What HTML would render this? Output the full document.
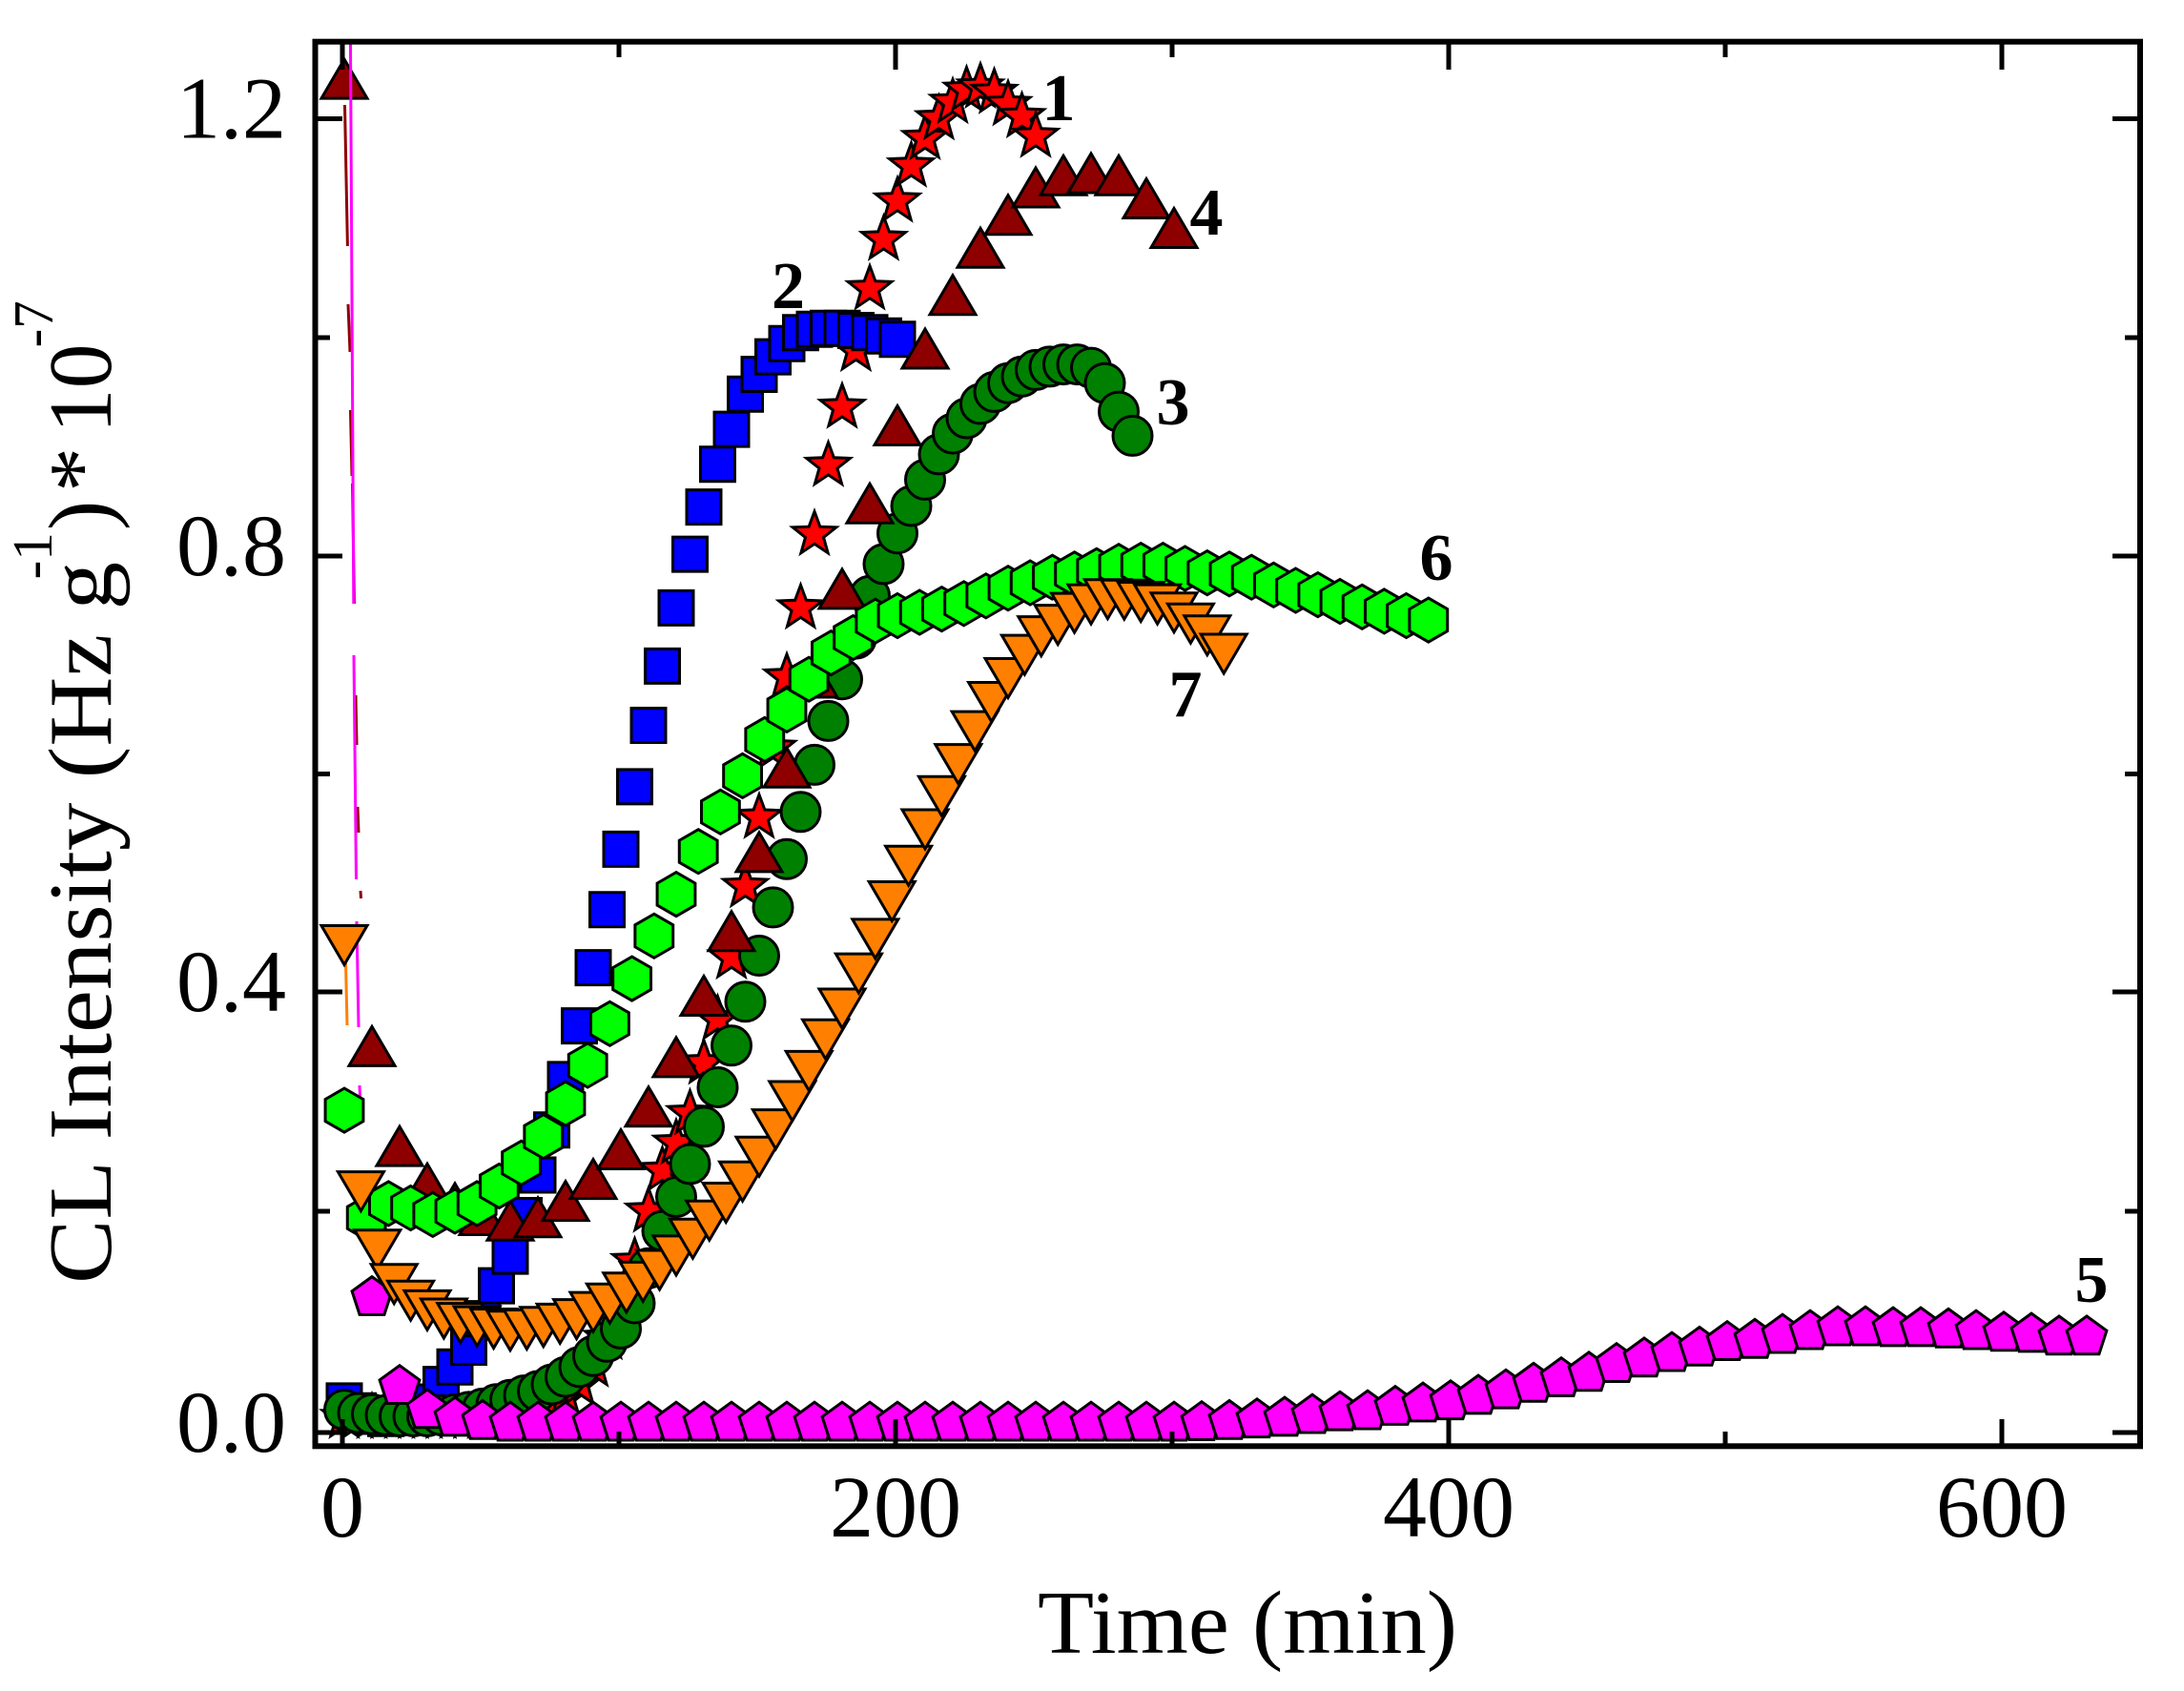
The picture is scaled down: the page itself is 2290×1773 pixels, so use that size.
<!DOCTYPE html>
<html><head><meta charset="utf-8">
<style>html,body{margin:0;padding:0;background:#fff;}svg{display:block;}</style>
</head><body>
<svg xmlns="http://www.w3.org/2000/svg" xmlns:xlink="http://www.w3.org/1999/xlink" width="2290" height="1773" viewBox="0 0 2290 1773">
<defs>
<path id="s" d="M0,-21.7L5.88,-5.79L22.83,-5.12L9.51,5.39L14.11,21.72L0,12.3L-14.11,21.72L-9.51,5.39L-22.83,-5.12L-5.88,-5.79Z"/>
<path id="q" d="M-18,-18H18V18H-18Z"/>
<circle id="c" cx="0" cy="0" r="20.5"/>
<path id="u" d="M0,-21L24,20H-24Z"/>
<path id="d" d="M0,21L24,-20H-24Z"/>
<path id="p" d="M0,-19.9L20.92,-4.7L12.93,19.9L-12.93,19.9L-20.92,-4.7Z"/>
<path id="h" d="M0,-23L19.92,-11.5L19.92,11.5L0,23L-19.92,11.5L-19.92,-11.5Z"/>
</defs>
<rect width="2290" height="1773" fill="#fff"/>

<!-- Series 1: red stars -->
<g fill="#ff0000" stroke="#000" stroke-width="3">
<use href="#s" x="361" y="1483.8"/><use href="#s" x="375.5" y="1483.8"/><use href="#s" x="390" y="1483.8"/><use href="#s" x="404.5" y="1483.8"/><use href="#s" x="419" y="1483.8"/><use href="#s" x="433.5" y="1483.8"/><use href="#s" x="448" y="1483.8"/><use href="#s" x="462.5" y="1483.8"/><use href="#s" x="477" y="1483.8"/><use href="#s" x="491.5" y="1483.8"/><use href="#s" x="506" y="1483.8"/><use href="#s" x="520.5" y="1483.8"/><use href="#s" x="535" y="1483.8"/>
<use href="#s" x="549.5" y="1481.5"/><use href="#s" x="564" y="1479.2"/><use href="#s" x="578.5" y="1472.3"/><use href="#s" x="593" y="1463.1"/><use href="#s" x="607.5" y="1449.3"/><use href="#s" x="622" y="1429.8"/><use href="#s" x="636.5" y="1401"/><use href="#s" x="651" y="1366.5"/><use href="#s" x="665.5" y="1320.5"/><use href="#s" x="680" y="1267.6"/><use href="#s" x="694.5" y="1225.1"/><use href="#s" x="709" y="1196.3"/><use href="#s" x="723.5" y="1165.3"/><use href="#s" x="738" y="1112.4"/><use href="#s" x="752.5" y="1066.4"/><use href="#s" x="767" y="1002"/><use href="#s" x="781.5" y="927.2"/><use href="#s" x="796" y="854.8"/><use href="#s" x="810.5" y="782.3"/><use href="#s" x="825" y="707.6"/><use href="#s" x="839.5" y="635.1"/><use href="#s" x="854" y="558"/><use href="#s" x="868.5" y="485.6"/><use href="#s" x="883" y="424.7"/><use href="#s" x="897.5" y="364.9"/><use href="#s" x="912" y="300.5"/><use href="#s" x="926.5" y="248.7"/><use href="#s" x="941" y="208.5"/><use href="#s" x="955.5" y="171.7"/><use href="#s" x="970" y="142.9"/><use href="#s" x="984.5" y="122.2"/><use href="#s" x="999" y="105"/><use href="#s" x="1013.5" y="92.3"/><use href="#s" x="1028" y="88.9"/><use href="#s" x="1042.5" y="94.6"/><use href="#s" x="1057" y="107.3"/><use href="#s" x="1071.5" y="119.9"/><use href="#s" x="1086" y="140.6"/>
</g>

<!-- Series 2: blue squares -->
<g fill="#0000ff" stroke="#000" stroke-width="3">
<use href="#q" x="361" y="1468.9"/><use href="#q" x="375.5" y="1479.2"/><use href="#q" x="390" y="1485"/><use href="#q" x="404.5" y="1487.3"/><use href="#q" x="419" y="1486.1"/><use href="#q" x="433.5" y="1481.5"/><use href="#q" x="448" y="1470"/><use href="#q" x="462.5" y="1451.6"/><use href="#q" x="477" y="1433.2"/><use href="#q" x="491.5" y="1412.5"/><use href="#q" x="506" y="1382.6"/><use href="#q" x="520.5" y="1348.1"/><use href="#q" x="535" y="1317.1"/><use href="#q" x="549.5" y="1274.5"/><use href="#q" x="564" y="1232"/><use href="#q" x="578.5" y="1184.8"/><use href="#q" x="593" y="1131.9"/><use href="#q" x="607.5" y="1075.6"/><use href="#q" x="622" y="1014.6"/><use href="#q" x="636.5" y="953.7"/><use href="#q" x="651" y="890.4"/><use href="#q" x="665.5" y="824.9"/><use href="#q" x="680" y="760.5"/><use href="#q" x="694.5" y="698.4"/><use href="#q" x="709" y="637.4"/><use href="#q" x="723.5" y="581.1"/><use href="#q" x="738" y="531.6"/><use href="#q" x="752.5" y="486.8"/><use href="#q" x="767" y="450.1"/><use href="#q" x="781.5" y="413.2"/><use href="#q" x="796" y="392.5"/><use href="#q" x="810.5" y="374.1"/><use href="#q" x="825" y="360.3"/><use href="#q" x="839.5" y="348.8"/><use href="#q" x="854" y="345.3"/><use href="#q" x="868.5" y="344.2"/><use href="#q" x="883" y="344.2"/><use href="#q" x="897.5" y="346.5"/><use href="#q" x="912" y="348.8"/><use href="#q" x="926.5" y="352.2"/><use href="#q" x="941" y="355.7"/>
</g>

<!-- Series 3: dark green circles -->
<g fill="#008000" stroke="#000" stroke-width="3">
<use href="#c" x="361" y="1478.1"/><use href="#c" x="375.5" y="1481.5"/><use href="#c" x="390" y="1482.7"/><use href="#c" x="404.5" y="1483.8"/><use href="#c" x="419" y="1485"/><use href="#c" x="433.5" y="1485"/><use href="#c" x="448" y="1485"/><use href="#c" x="462.5" y="1483.8"/><use href="#c" x="477" y="1482.7"/><use href="#c" x="491.5" y="1480.4"/><use href="#c" x="506" y="1476.9"/><use href="#c" x="520.5" y="1472.3"/><use href="#c" x="535" y="1467.7"/><use href="#c" x="549.5" y="1463.1"/><use href="#c" x="564" y="1458.5"/><use href="#c" x="578.5" y="1451.6"/><use href="#c" x="593" y="1443.6"/><use href="#c" x="607.5" y="1433.2"/><use href="#c" x="622" y="1421.7"/><use href="#c" x="636.5" y="1406.8"/><use href="#c" x="651" y="1393"/><use href="#c" x="665.5" y="1366.5"/><use href="#c" x="680" y="1329.7"/><use href="#c" x="694.5" y="1290.6"/><use href="#c" x="709" y="1255"/><use href="#c" x="723.5" y="1220.5"/><use href="#c" x="738" y="1181.4"/><use href="#c" x="752.5" y="1140"/><use href="#c" x="767" y="1096.3"/><use href="#c" x="781.5" y="1050.3"/><use href="#c" x="796" y="1002"/><use href="#c" x="810.5" y="951.4"/><use href="#c" x="825" y="900.8"/><use href="#c" x="839.5" y="851.3"/><use href="#c" x="854" y="801.9"/><use href="#c" x="868.5" y="755.9"/><use href="#c" x="883" y="712.2"/><use href="#c" x="897.5" y="669.6"/><use href="#c" x="912" y="624.8"/><use href="#c" x="926.5" y="591.4"/><use href="#c" x="941" y="559.2"/><use href="#c" x="955.5" y="530.5"/><use href="#c" x="970" y="502.9"/><use href="#c" x="984.5" y="476.4"/><use href="#c" x="999" y="454.6"/><use href="#c" x="1013.5" y="438.5"/><use href="#c" x="1028" y="423.5"/><use href="#c" x="1042.5" y="410.9"/><use href="#c" x="1057" y="401.7"/><use href="#c" x="1071.5" y="394.8"/><use href="#c" x="1086" y="387.9"/><use href="#c" x="1100.5" y="384.4"/><use href="#c" x="1115" y="382.1"/><use href="#c" x="1129.5" y="382.1"/><use href="#c" x="1144" y="385.6"/><use href="#c" x="1158.5" y="401.7"/><use href="#c" x="1173" y="431.6"/><use href="#c" x="1187.5" y="456.9"/>
</g>

<!-- Series 4: dark red triangles + line -->
<g stroke="#8e0000" stroke-width="3" fill="none">
<line x1="361.5" y1="110" x2="364.4" y2="258"/>
<line x1="365" y1="319" x2="367" y2="369"/>
<line x1="367.5" y1="430" x2="369" y2="499"/>
<line x1="369.5" y1="507" x2="371.5" y2="633"/>
<line x1="373" y1="729" x2="374" y2="781"/>
<line x1="375" y1="846" x2="376" y2="873"/>
<line x1="378" y1="934" x2="378.5" y2="942"/>
</g>
<g fill="#8e0000" stroke="#000" stroke-width="3">
<use href="#u" x="361" y="83.1"/><use href="#u" x="390" y="1097.4"/><use href="#u" x="419" y="1202.1"/><use href="#u" x="448" y="1241.2"/><use href="#u" x="477" y="1261.9"/><use href="#u" x="506" y="1274.5"/><use href="#u" x="535" y="1280.3"/><use href="#u" x="564" y="1276.8"/><use href="#u" x="593" y="1259.6"/><use href="#u" x="622" y="1236.6"/><use href="#u" x="651" y="1205.5"/><use href="#u" x="680" y="1160.7"/><use href="#u" x="709" y="1108.9"/><use href="#u" x="738" y="1044.5"/><use href="#u" x="767" y="976.7"/><use href="#u" x="796" y="893.9"/><use href="#u" x="825" y="805.3"/><use href="#u" x="854" y="711"/><use href="#u" x="883" y="617.9"/><use href="#u" x="912" y="528.2"/><use href="#u" x="941" y="446.5"/><use href="#u" x="970" y="366"/><use href="#u" x="999" y="309.7"/><use href="#u" x="1028" y="260.2"/><use href="#u" x="1057" y="225.7"/><use href="#u" x="1086" y="197"/><use href="#u" x="1115" y="184.3"/><use href="#u" x="1144" y="182"/><use href="#u" x="1173" y="184.3"/><use href="#u" x="1202" y="208.5"/><use href="#u" x="1231" y="239.5"/>
</g>

<!-- Series 5: magenta line + pentagons -->
<g stroke="#ff00ff" stroke-width="3" fill="none">
<line x1="367.5" y1="46" x2="370.8" y2="633"/>
<line x1="371" y1="687" x2="373.5" y2="922"/>
<line x1="374" y1="966" x2="376" y2="1077"/>
<line x1="377" y1="1138" x2="377.5" y2="1150"/>
</g>
<g fill="#ff00ff" stroke="#000" stroke-width="3">
<use href="#p" x="390" y="1358.5"/><use href="#p" x="419" y="1451.6"/><use href="#p" x="448" y="1476.9"/><use href="#p" x="477" y="1485"/><use href="#p" x="506" y="1488.4"/>
<use href="#p" x="535" y="1490.1"/><use href="#p" x="564" y="1490.1"/><use href="#p" x="593" y="1490.1"/><use href="#p" x="622" y="1490.1"/><use href="#p" x="651" y="1490.1"/><use href="#p" x="680" y="1490.1"/><use href="#p" x="709" y="1490.1"/><use href="#p" x="738" y="1490.1"/><use href="#p" x="767" y="1490.1"/><use href="#p" x="796" y="1490.1"/><use href="#p" x="825" y="1490.1"/><use href="#p" x="854" y="1490.1"/><use href="#p" x="883" y="1490.1"/><use href="#p" x="912" y="1490.1"/><use href="#p" x="941" y="1490.1"/><use href="#p" x="970" y="1490.1"/><use href="#p" x="999" y="1490.1"/><use href="#p" x="1028" y="1490.1"/><use href="#p" x="1057" y="1490.1"/><use href="#p" x="1086" y="1490.1"/><use href="#p" x="1115" y="1490.1"/><use href="#p" x="1144" y="1490.1"/><use href="#p" x="1173" y="1490.1"/><use href="#p" x="1202" y="1490.1"/><use href="#p" x="1231" y="1490.1"/>
<use href="#p" x="1260" y="1489.6"/><use href="#p" x="1289" y="1488.4"/><use href="#p" x="1318" y="1486.7"/><use href="#p" x="1347" y="1485"/><use href="#p" x="1376" y="1482.1"/><use href="#p" x="1405" y="1479.2"/><use href="#p" x="1434" y="1478.1"/><use href="#p" x="1463" y="1473.5"/><use href="#p" x="1492" y="1470"/><use href="#p" x="1521" y="1467.7"/><use href="#p" x="1550" y="1462"/><use href="#p" x="1579" y="1456.2"/><use href="#p" x="1608" y="1449.3"/><use href="#p" x="1637" y="1443.6"/><use href="#p" x="1666" y="1437.8"/><use href="#p" x="1695" y="1428.6"/><use href="#p" x="1724" y="1422.9"/><use href="#p" x="1753" y="1417.1"/><use href="#p" x="1782" y="1411.4"/><use href="#p" x="1811" y="1405.6"/><use href="#p" x="1840" y="1403.3"/><use href="#p" x="1869" y="1398.1"/><use href="#p" x="1898" y="1394.1"/><use href="#p" x="1927" y="1390.1"/><use href="#p" x="1956" y="1390.1"/><use href="#p" x="1985" y="1391"/><use href="#p" x="2014" y="1391"/><use href="#p" x="2043" y="1392.3"/><use href="#p" x="2072" y="1394.1"/><use href="#p" x="2101" y="1395.8"/><use href="#p" x="2130" y="1397"/><use href="#p" x="2159" y="1399.9"/><use href="#p" x="2188" y="1399.9"/>
</g>

<!-- Series 6: bright green hexagons -->
<g fill="#00ff00" stroke="#000" stroke-width="3">
<use href="#h" x="361" y="1164.1"/><use href="#h" x="384.2" y="1276.8"/><use href="#h" x="407.4" y="1261.9"/><use href="#h" x="430.6" y="1266.5"/><use href="#h" x="453.8" y="1273.4"/><use href="#h" x="477" y="1269.9"/><use href="#h" x="500.2" y="1261.9"/><use href="#h" x="523.4" y="1243.5"/><use href="#h" x="546.6" y="1219.3"/><use href="#h" x="569.8" y="1191.7"/><use href="#h" x="593" y="1157.2"/><use href="#h" x="616.2" y="1117"/><use href="#h" x="639.4" y="1073.3"/><use href="#h" x="662.6" y="1026.1"/><use href="#h" x="685.8" y="981.3"/><use href="#h" x="709" y="937.6"/><use href="#h" x="732.2" y="892.7"/><use href="#h" x="755.4" y="851.3"/><use href="#h" x="778.6" y="813.4"/><use href="#h" x="801.8" y="775.4"/><use href="#h" x="825" y="744.4"/><use href="#h" x="848.2" y="712.2"/><use href="#h" x="871.4" y="684.6"/><use href="#h" x="894.6" y="668.5"/><use href="#h" x="917.8" y="651.2"/><use href="#h" x="941" y="645.5"/><use href="#h" x="964.2" y="642"/><use href="#h" x="987.4" y="638.6"/><use href="#h" x="1010.6" y="632.8"/><use href="#h" x="1033.8" y="624.8"/><use href="#h" x="1057" y="616.7"/><use href="#h" x="1080.2" y="611"/><use href="#h" x="1103.4" y="605.2"/><use href="#h" x="1126.6" y="601.8"/><use href="#h" x="1149.8" y="598.3"/><use href="#h" x="1173" y="593.7"/><use href="#h" x="1196.2" y="592.6"/><use href="#h" x="1219.4" y="592.6"/><use href="#h" x="1242.6" y="596"/><use href="#h" x="1265.8" y="600.6"/><use href="#h" x="1289" y="601.8"/><use href="#h" x="1312.2" y="605.2"/><use href="#h" x="1335.4" y="613.3"/><use href="#h" x="1358.6" y="619"/><use href="#h" x="1381.8" y="623.6"/><use href="#h" x="1405" y="630.5"/><use href="#h" x="1428.2" y="636.3"/><use href="#h" x="1451.4" y="640.9"/><use href="#h" x="1474.6" y="645.5"/><use href="#h" x="1497.8" y="650.1"/>
</g>

<!-- Series 7: orange down-triangles + line -->
<line x1="362.5" y1="1010" x2="364" y2="1075" stroke="#ff8000" stroke-width="3"/>
<g fill="#ff8000" stroke="#000" stroke-width="3">
<use href="#d" x="361" y="990.5"/><use href="#d" x="378.4" y="1248.6"/><use href="#d" x="395.8" y="1309.7"/><use href="#d" x="413.2" y="1345.8"/><use href="#d" x="430.6" y="1363.2"/><use href="#d" x="448" y="1373.4"/><use href="#d" x="465.4" y="1382"/><use href="#d" x="482.8" y="1386.6"/><use href="#d" x="500.2" y="1390.1"/><use href="#d" x="517.6" y="1392.5"/><use href="#d" x="535" y="1394.8"/><use href="#d" x="552.4" y="1393.5"/><use href="#d" x="569.8" y="1390.8"/><use href="#d" x="587.2" y="1387.4"/><use href="#d" x="604.6" y="1382.6"/><use href="#d" x="622" y="1375.1"/><use href="#d" x="639.4" y="1366.3"/><use href="#d" x="656.8" y="1354.8"/><use href="#d" x="674.2" y="1343.4"/><use href="#d" x="691.6" y="1331"/><use href="#d" x="709" y="1315.9"/><use href="#d" x="726.4" y="1298.2"/><use href="#d" x="743.8" y="1279.3"/><use href="#d" x="761.2" y="1260.5"/><use href="#d" x="778.6" y="1238.3"/><use href="#d" x="796" y="1212.2"/><use href="#d" x="813.4" y="1183.6"/><use href="#d" x="830.8" y="1154"/><use href="#d" x="848.2" y="1122.4"/><use href="#d" x="865.6" y="1089.2"/><use href="#d" x="883" y="1057"/><use href="#d" x="900.4" y="1020.1"/><use href="#d" x="917.8" y="983.9"/><use href="#d" x="935.2" y="944.5"/><use href="#d" x="952.6" y="907.2"/><use href="#d" x="970" y="869"/><use href="#d" x="987.4" y="834.3"/><use href="#d" x="1004.8" y="800.6"/><use href="#d" x="1022.2" y="766.1"/><use href="#d" x="1039.6" y="735.5"/><use href="#d" x="1057" y="710.5"/><use href="#d" x="1074.4" y="686.1"/><use href="#d" x="1091.8" y="666.6"/><use href="#d" x="1109.2" y="654.6"/><use href="#d" x="1126.6" y="642.1"/><use href="#d" x="1144" y="633.1"/><use href="#d" x="1161.4" y="627.7"/><use href="#d" x="1178.8" y="628.2"/><use href="#d" x="1196.2" y="630.5"/><use href="#d" x="1213.6" y="633.1"/><use href="#d" x="1231" y="641.8"/><use href="#d" x="1248.4" y="653.2"/><use href="#d" x="1265.8" y="665.7"/><use href="#d" x="1283.2" y="685"/>
</g>

<!-- axes frame -->
<g stroke="#000" fill="none">
  <rect x="330.5" y="43.7" width="1913.5" height="1472.6" stroke-width="6"/>
  <g stroke-width="5">
    <line x1="330" y1="1502" x2="359" y2="1502"/>
    <line x1="330" y1="1040" x2="359" y2="1040"/>
    <line x1="330" y1="583" x2="359" y2="583"/>
    <line x1="330" y1="124.5" x2="359" y2="124.5"/>
    <line x1="330" y1="1270" x2="346" y2="1270"/>
    <line x1="330" y1="811.5" x2="346" y2="811.5"/>
    <line x1="330" y1="354" x2="346" y2="354"/>
    <line x1="2244" y1="1502" x2="2215" y2="1502"/>
    <line x1="2244" y1="1040" x2="2215" y2="1040"/>
    <line x1="2244" y1="583" x2="2215" y2="583"/>
    <line x1="2244" y1="124.5" x2="2215" y2="124.5"/>
    <line x1="2244" y1="1270" x2="2228" y2="1270"/>
    <line x1="2244" y1="811.5" x2="2228" y2="811.5"/>
    <line x1="2244" y1="354" x2="2228" y2="354"/>
    <line x1="359" y1="1516" x2="359" y2="1488"/>
    <line x1="939" y1="1516" x2="939" y2="1488"/>
    <line x1="1519" y1="1516" x2="1519" y2="1488"/>
    <line x1="2099" y1="1516" x2="2099" y2="1488"/>
    <line x1="649" y1="1516" x2="649" y2="1501"/>
    <line x1="1229" y1="1516" x2="1229" y2="1501"/>
    <line x1="1809" y1="1516" x2="1809" y2="1501"/>
    <line x1="359" y1="44" x2="359" y2="73"/>
    <line x1="939" y1="44" x2="939" y2="73"/>
    <line x1="1519" y1="44" x2="1519" y2="73"/>
    <line x1="2099" y1="44" x2="2099" y2="73"/>
    <line x1="649" y1="44" x2="649" y2="60"/>
    <line x1="1229" y1="44" x2="1229" y2="60"/>
    <line x1="1809" y1="44" x2="1809" y2="60"/>
  </g>
</g>

<!-- tick labels -->
<g font-family="'Liberation Serif', serif" font-size="92" fill="#000">
  <text x="300" y="1522" text-anchor="end">0.0</text>
  <text x="300" y="1060" text-anchor="end">0.4</text>
  <text x="300" y="603" text-anchor="end">0.8</text>
  <text x="300" y="144.5" text-anchor="end">1.2</text>
  <text x="359" y="1611" text-anchor="middle">0</text>
  <text x="939" y="1611" text-anchor="middle">200</text>
  <text x="1519" y="1611" text-anchor="middle">400</text>
  <text x="2099" y="1611" text-anchor="middle">600</text>
</g>

<!-- axis titles -->
<text x="1088" y="1733" font-family="'Liberation Serif', serif" font-size="94" textLength="440" lengthAdjust="spacingAndGlyphs">Time (min)</text>
<g transform="translate(116,1346) rotate(-90)" font-family="'Liberation Serif', serif" fill="#000">
  <text x="0" y="0" font-size="94" textLength="757" lengthAdjust="spacingAndGlyphs">CL Intensity (Hz g</text>
  <text x="738.6" y="-62" font-size="59">-1</text>
  <text x="790" y="0" font-size="94">)</text>
  <text x="830" y="0" font-size="94">*</text>
  <text x="891.6" y="0" font-size="94">10</text>
  <text x="981.6" y="-61" font-size="59">-7</text>
</g>

<!-- series labels -->
<g font-family="'Liberation Serif', serif" font-weight="bold" font-size="70" text-anchor="middle" fill="#000">
  <text x="1110" y="126">1</text>
  <text x="826.5" y="323">2</text>
  <text x="1230" y="445">3</text>
  <text x="1265" y="246">4</text>
  <text x="2193" y="1365">5</text>
  <text x="1506" y="608">6</text>
  <text x="1243" y="751">7</text>
</g>
</svg>
</body></html>
